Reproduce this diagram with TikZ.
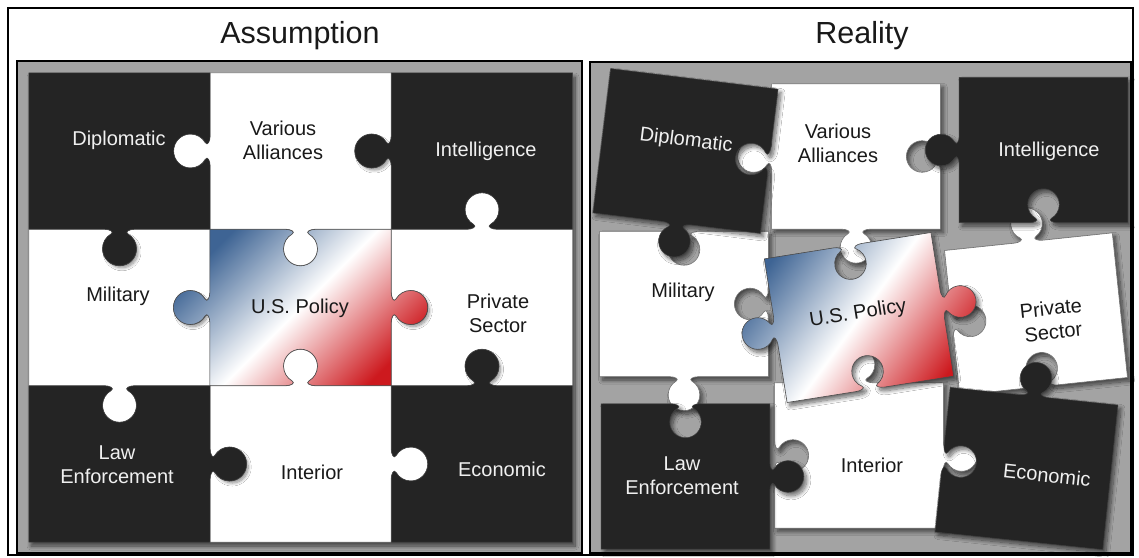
\documentclass[tikz,border=0pt]{standalone}
\usepackage{fontspec}
\setmainfont{Liberation Sans}
\usetikzlibrary{shadows.blur}
\definecolor{dark}{HTML}{242424}
\definecolor{panelgray}{HTML}{A3A3A3}
\definecolor{usblue}{RGB}{62,100,148}
\definecolor{usred}{RGB}{205,25,30}

% point on an edge: centre (#1,#2), along (#3,#4), outward (#5,#6), local (u,v)=(#7,#8)
\newcommand\KP[8]{({#1+(#7)*(#3)+(#8)*(#5)},{#2+(#7)*(#4)+(#8)*(#6)})}
\newcommand\knob[6]{%
 -- \KP{#1}{#2}{#3}{#4}{#5}{#6}{-15}{0}
 .. controls \KP{#1}{#2}{#3}{#4}{#5}{#6}{-10}{0} and \KP{#1}{#2}{#3}{#4}{#5}{#6}{-4.6}{2.53} .. \KP{#1}{#2}{#3}{#4}{#5}{#6}{-8.5}{4.78}
 .. controls \KP{#1}{#2}{#3}{#4}{#5}{#6}{-13.76}{7.82} and \KP{#1}{#2}{#3}{#4}{#5}{#6}{-17}{13.43} .. \KP{#1}{#2}{#3}{#4}{#5}{#6}{-17}{19.5}
 .. controls \KP{#1}{#2}{#3}{#4}{#5}{#6}{-17}{28.89} and \KP{#1}{#2}{#3}{#4}{#5}{#6}{-9.39}{36.5} .. \KP{#1}{#2}{#3}{#4}{#5}{#6}{0}{36.5}
 .. controls \KP{#1}{#2}{#3}{#4}{#5}{#6}{9.39}{36.5} and \KP{#1}{#2}{#3}{#4}{#5}{#6}{17}{28.89} .. \KP{#1}{#2}{#3}{#4}{#5}{#6}{17}{19.5}
 .. controls \KP{#1}{#2}{#3}{#4}{#5}{#6}{17}{13.43} and \KP{#1}{#2}{#3}{#4}{#5}{#6}{13.76}{7.82} .. \KP{#1}{#2}{#3}{#4}{#5}{#6}{8.5}{4.78}
 .. controls \KP{#1}{#2}{#3}{#4}{#5}{#6}{4.6}{2.53} and \KP{#1}{#2}{#3}{#4}{#5}{#6}{10}{0} .. \KP{#1}{#2}{#3}{#4}{#5}{#6}{15}{0}}
% piece outline: top, right, bottom, left (1 knob, -1 hole, 0 flat)
\newcommand\piecepath[4]{(-\hw,-\hh) \knob{0}{-\hh}{1}{0}{0}{-1*(#1)} -- (\hw,-\hh)
 \knob{\hw}{0}{0}{1}{#2}{0} -- (\hw,\hh)
 \knob{0}{\hh}{-1}{0}{0}{#3} -- (-\hw,\hh)
 \knob{-\hw}{0}{0}{-1}{-1*(#4)}{0} -- cycle}
% cx, cy, angle, scale, style, top, right, bottom, left
\newcommand\piece[9]{%
 \begin{scope}[shift={(#1,#2)},rotate=#3,scale=#4]
 \path[#5] \piecepath{#6}{#7}{#8}{#9};
 \end{scope}}

\tikzset{
 lbl/.style={font=\fontsize{20}{24}\selectfont, align=center, inner sep=0pt},
 wlbl/.style={lbl, text=white!94!black},
 blbl/.style={lbl, text=black!90},
 title/.style={font=\fontsize{30.5}{34}\selectfont, inner sep=0pt, text=black!90},
 frame/.style={draw=black, line width=1.6pt, fill=panelgray},
 pshadow/.style={blur shadow={shadow xshift=3pt, shadow yshift=-3.5pt, shadow blur radius=4pt, shadow blur steps=12, shadow opacity=60}},
 kshadow/.style={blur shadow={shadow xshift=2.5pt, shadow yshift=-3pt, shadow blur radius=3pt, shadow blur steps=10, shadow opacity=45}},
 darkpiece/.style={fill=dark, draw=black!75, line width=0.5pt},
 whitepiece/.style={fill=white, draw=black!55, line width=0.6pt},
 uspiece/.style={top color=usblue, bottom color=usred, middle color=white, draw=black!70, line width=0.6pt},
}

\begin{document}
\begin{tikzpicture}[x=1pt,y=-1pt]
\useasboundingbox (0,0) rectangle (1139,557);
\fill[white] (0,0) rectangle (1139,557);
\draw[line width=1.5pt] (8,8) rectangle (1133,555);

\node[title] (t1) at (300,36) {Assumption};
\node[title] (t2) at (862,36) {Reality};

% ---------------- left panel ----------------
\draw[frame] (17,61) rectangle (582,553);
\fill[fill=panelgray, blur shadow={shadow xshift=2pt, shadow yshift=-4pt, shadow blur radius=4pt, shadow blur steps=10, shadow opacity=60}] (29,73) rectangle (573,542);
\def\hw{90.67}\def\hh{78.17}
% white pieces
\piece{300.5}{151}{0}{1}{whitepiece}{0}{-1}{1}{1}
\piece{119.5}{307.5}{0}{1}{whitepiece}{-1}{-1}{1}{0}
\piece{482}{307.5}{0}{1}{whitepiece}{1}{0}{-1}{-1}
\piece{300.5}{464}{0}{1}{whitepiece}{1}{1}{0}{-1}
% shadows of the knobs lying on white pieces
\path[kshadow] (371.8,151) circle[radius=16];
\path[kshadow] (119.5,248.7) circle[radius=16];
\path[kshadow] (190.3,307.5) circle[radius=16];
\path[kshadow] (410.7,307.5) circle[radius=16];
\path[kshadow] (229.7,464) circle[radius=16];
\path[kshadow] (482,366.3) circle[radius=16];
% dark pieces and U.S. Policy
\piece{119.5}{151}{0}{1}{darkpiece}{0}{-1}{1}{0}
\piece{482}{151}{0}{1}{darkpiece}{0}{0}{-1}{1}
\piece{300.5}{307.5}{0}{1}{uspiece,shading angle=45}{-1}{1}{-1}{1}
\piece{119.5}{464}{0}{1}{darkpiece}{-1}{1}{0}{0}
\piece{482}{464}{0}{1}{darkpiece}{1}{0}{0}{-1}

\node[wlbl] (ldip) at (119,140) {Diplomatic};
\node[blbl] (lva) at (283,140) {Various\\Alliances};
\node[wlbl] (lint) at (486,151) {Intelligence};
\node[blbl] (lmil) at (118,296) {Military};
\node[blbl] (lusp) at (300,308) {U.S. Policy};
\node[blbl] (lpri) at (498,313) {Private\\Sector};
\node[wlbl] (llaw) at (117,465) {Law\\Enforcement};
\node[blbl] (lintr) at (312,472) {Interior};
\node[wlbl] (leco) at (502,469) {Economic};

% ---------------- right panel ----------------
\draw[frame] (590,62) rectangle (1131,553);
\piece{856}{156.5}{0}{0.93}{whitepiece,pshadow}{0}{-1}{1}{1}
\piece{859}{455.5}{0}{0.93}{whitepiece,pshadow}{1}{1}{0}{-1}
\piece{1036}{314}{6}{0.93}{whitepiece,pshadow}{1}{0}{-1}{-1}
\piece{684}{304}{0}{0.93}{whitepiece,pshadow}{-1}{-1}{1}{0}
\piece{685.5}{476.5}{0}{0.93}{darkpiece,pshadow}{-1}{1}{0}{0}
\piece{1043.5}{150}{0}{0.93}{darkpiece,pshadow}{0}{0}{-1}{1}
\piece{1026.5}{468.5}{-6}{0.93}{darkpiece,pshadow}{1}{0}{0}{-1}
\piece{685.5}{151}{-7}{0.93}{darkpiece,pshadow}{0}{-1}{1}{0}
\piece{859}{317.5}{9}{0.93}{uspiece,shading angle=54,pshadow}{-1}{1}{-1}{1}

\node[wlbl, rotate=-7] (rdip) at (686,141) {Diplomatic};
\node[blbl] (rva) at (838,143) {Various\\Alliances};
\node[wlbl] (rint) at (1049,151) {Intelligence};
\node[blbl] (rmil) at (683,292) {Military};
\node[blbl, rotate=9] (rusp) at (858,314) {U.S. Policy};
\node[blbl, rotate=6] (rpri) at (1052,320) {Private\\Sector};
\node[wlbl] (rlaw) at (682,476) {Law\\Enforcement};
\node[blbl] (rintr) at (872,465) {Interior};
\node[wlbl, rotate=-6] (reco) at (1047,475) {Economic};
\end{tikzpicture}
\end{document}
